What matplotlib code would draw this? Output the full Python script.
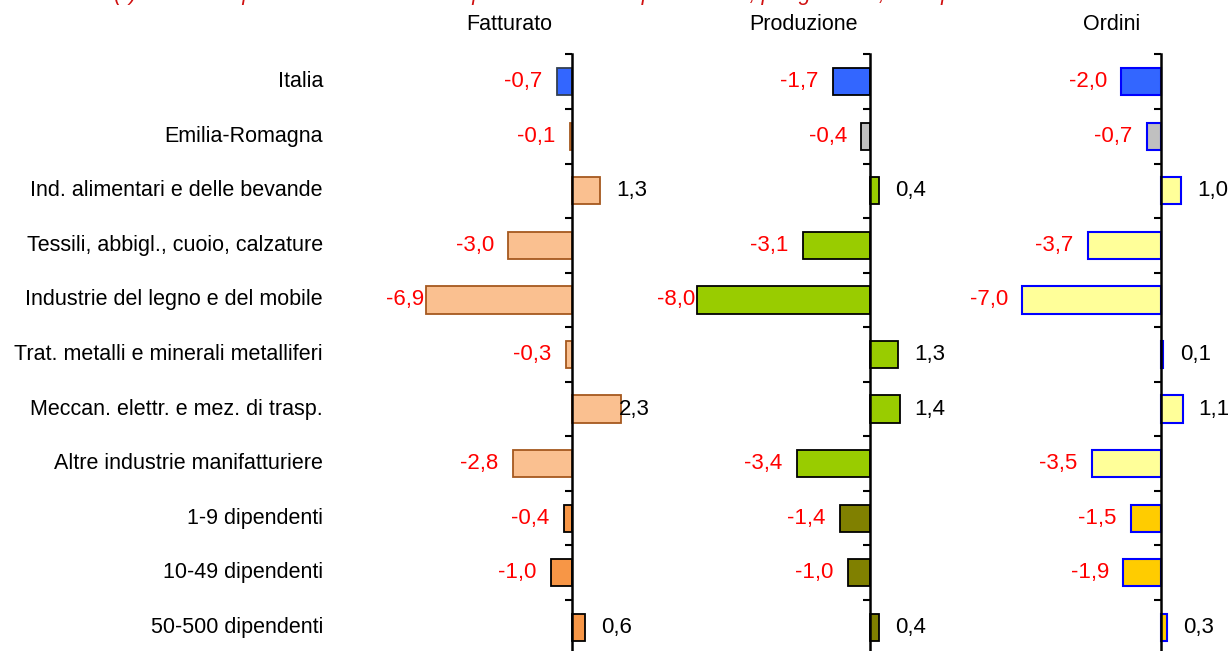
import matplotlib
matplotlib.use("Agg")
import matplotlib.pyplot as plt
import matplotlib.transforms as mtransforms

categories = [
    "Italia",
    "Emilia-Romagna",
    "Ind. alimentari e delle bevande",
    "Tessili, abbigl., cuoio, calzature",
    "Industrie del legno e del mobile",
    "Trat. metalli e minerali metalliferi",
    "Meccan. elettr. e mez. di trasp.",
    "Altre industrie manifatturiere",
    "1-9 dipendenti",
    "10-49 dipendenti",
    "50-500 dipendenti",
]
panel_titles = ["Fatturato", "Produzione", "Ordini"]
fatturato = [-0.7, -0.1, 1.3, -3.0, -6.9, -0.3, 2.3, -2.8, -0.4, -1.0, 0.6]
produzione = [-1.7, -0.4, 0.4, -3.1, -8.0, 1.3, 1.4, -3.4, -1.4, -1.0, 0.4]
ordini = [-2.0, -0.7, 1.0, -3.7, -7.0, 0.1, 1.1, -3.5, -1.5, -1.9, 0.3]
note = "(*) Variazioni percentuali sullo stesso periodo dell'anno precedente; per gli ordini, saldi ponderati"

# group of each row: 0 Italia, 1 Emilia-Romagna, 2 sectors, 3 size classes
groups = [0, 1, 2, 2, 2, 2, 2, 2, 3, 3, 3]

styles = [
    # (facecolors per group, edgecolors per group, edge width)
    (["#3366FF", "#FAC090", "#FAC090", "#F79646"],
     ["#333F50", "#A5581F", "#A5581F", "#000000"], 1.3),
    (["#3366FF", "#C0C0C0", "#99CC00", "#808000"],
     ["#000000", "#000000", "#000000", "#000000"], 1.3),
    (["#3366FF", "#C0C0C0", "#FFFF99", "#FFCC00"],
     ["#0000FF", "#0000FF", "#0000FF", "#0000FF"], 1.5),
]

W, H = 1231, 651
fig = plt.figure(figsize=(W / 100, H / 100), dpi=100)
plt.rcParams["font.family"] = ["Liberation Sans", "DejaVu Sans"]
FS = 15.5
FSV = 16

# panel layout in pixels: left, right, zero position, px per unit
panels = [(386, 650, 572, 21.2), (657, 945, 870, 21.6), (960, 1229, 1161, 19.8)]
title_x = [509, 803, 1112]
top_px, bot_px = 54.5, 654.5

series = [fatturato, produzione, ordini]
axes = []
labels_all = []
n = len(categories)
for k, (L, R, Z, s) in enumerate(panels):
    ax = fig.add_axes([L / W, 1 - bot_px / H, (R - L) / W, (bot_px - top_px) / H])
    ax.set_xlim((L - Z) / s, (R - Z) / s)
    ax.set_ylim(n - 0.5, -0.5)
    ax.patch.set_visible(False)
    for sp in ["top", "right", "bottom"]:
        ax.spines[sp].set_visible(False)
    ax.spines["left"].set_position(("data", 0))
    ax.spines["left"].set_linewidth(1.8)
    ax.set_xticks([])
    ax.set_yticks([i - 0.5 for i in range(n + 1)])
    ax.set_yticklabels([])
    ax.tick_params(axis="y", direction="out", length=5, width=1.5, color="black")
    fc, ec, lw = styles[k]
    vals = series[k]
    ax.barh(range(n), vals, height=0.5,
            color=[fc[g] for g in groups], edgecolor=[ec[g] for g in groups],
            linewidth=lw, zorder=2)
    ax.spines["left"].set_zorder(3)
    for i, v in enumerate(vals):
        txt = f"{v:.1f}".replace(".", ",")
        if v < 0:
            t = ax.annotate(txt, (v, i), xytext=(-10.5, 0), textcoords="offset points",
                            ha="right", va="center", color="#FF0000", fontsize=FSV)
        else:
            t = ax.annotate(txt, (v, i), xytext=(12, 0), textcoords="offset points",
                            ha="left", va="center", color="black", fontsize=FSV)
        labels_all.append((ax, t, v))
    fig.text(title_x[k] / W, 1 - 25 / H, panel_titles[k], ha="center", va="center",
             fontsize=FS, color="black")
    axes.append(ax)

# category labels, right-aligned, beside the first panel
trans = mtransforms.blended_transform_factory(fig.transFigure, axes[0].transData)
for i, c in enumerate(categories):
    fig.text(323 / W, i, c, transform=trans, ha="right", va="center",
             fontsize=FS, color="black")

# keep value labels inside their plot area (as the original chart does)
fig.canvas.draw()
rend = fig.canvas.get_renderer()
for ax, t, v in labels_all:
    bb = t.get_window_extent(rend)
    abb = ax.get_window_extent(rend)
    ox, oy = t.xyann
    if bb.x0 < abb.x0:
        ox += (abb.x0 - bb.x0) * 72 / fig.dpi
    elif bb.x1 > abb.x1:
        ox -= (bb.x1 - abb.x1) * 72 / fig.dpi
    t.xyann = (ox, oy)

fig.text(114 / W, 1 + 0.5 / H, note, ha="left", va="baseline", fontsize=FS,
         color="#D01010", style="italic")

fig.savefig("out.png", dpi=100)
